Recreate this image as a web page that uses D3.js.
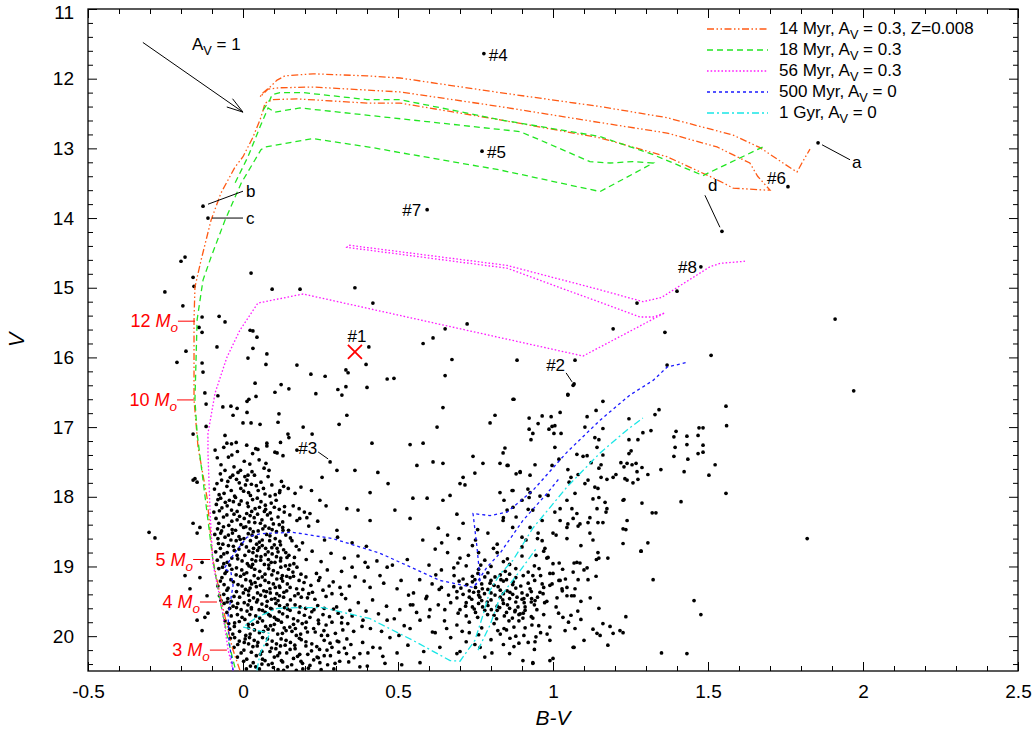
<!DOCTYPE html>
<html>
<head>
<meta charset="utf-8">
<script src="https://cdn.jsdelivr.net/npm/d3@7"></script>
<style>
  body { margin: 0; background: #fff; }
  svg text { font-family: "Liberation Sans", Arial, Helvetica, sans-serif; }
</style>
</head>
<body>
<svg id="cmd" width="1035" height="735"></svg>
<script>

// ---- data: [B-V, V] ----

const xTicks = [-0.5, 0, 0.5, 1, 1.5, 2, 2.5];
const yTicks = [11, 12, 13, 14, 15, 16, 17, 18, 19, 20];

// isochrones (null = break between pieces)
const iso14 = [
  [-0.010,20.49],[-0.035,20.16],[-0.068,19.53],[-0.097,18.91],[-0.116,18.01],[-0.145,17.29],
  [-0.158,16.61],[-0.158,15.46],[-0.155,14.99],[-0.135,14.60],[-0.103,14.03],[-0.071,13.64],
  [-0.026,13.27],[0.000,13.12],[0.032,12.84],[0.055,12.59],[0.065,12.45],[0.071,12.35],
  [0.097,12.30],[0.174,12.29],[0.400,12.35],[0.506,12.35],[0.829,12.59],[1.152,12.85],
  [1.368,13.12],[1.529,13.45],[1.581,13.57],[1.690,13.60],[1.700,13.60],
  [1.660,13.40],[1.635,13.21],[1.529,12.98],[1.368,12.78],[1.152,12.63],[0.829,12.40],
  [0.506,12.19],[0.226,12.12],[0.119,12.13],[0.081,12.15],[0.055,12.26],[0.065,12.20],
  [0.087,12.12],[0.110,12.02],[0.135,11.96],[0.226,11.93],[0.400,11.96],[0.506,11.99],
  [0.829,12.20],[1.152,12.40],[1.368,12.56],[1.581,12.81],[1.668,12.99],[1.742,13.21],
  [1.787,13.34],[1.803,13.21],[1.829,13.01]
];
const iso18 = [
  [-0.026,20.45],[-0.048,20.06],[-0.074,19.49],[-0.097,18.91],[-0.129,17.76],[-0.148,17.09],
  [-0.155,16.61],[-0.148,15.46],[-0.129,14.89],[-0.103,14.56],[-0.058,14.03],[-0.006,13.50],
  [0.058,13.02],[0.071,12.98],[0.226,12.86],[0.419,12.99],[0.506,13.06],[0.829,13.31],
  [1.152,13.62],[1.323,13.21],[1.258,13.19],[1.184,13.21],[1.119,13.19],[0.958,12.88],
  [0.894,12.76],[0.184,12.42],[0.103,12.48],[0.081,12.42],[0.055,12.69],[0.016,13.12],
  [-0.026,13.50],
  null,
  [0.065,12.45],[0.087,12.30],[0.094,12.23],[0.119,12.20],[0.194,12.20],[0.400,12.30],
  [0.506,12.30],[0.829,12.59],[1.152,12.83],[1.323,13.09],[1.484,13.39],[1.677,12.98]
];
const iso56 = [
  [-0.032,20.49],[-0.048,20.20],[-0.068,19.59],[-0.097,18.96],[-0.106,18.24],[-0.113,17.37],
  [-0.113,17.09],[-0.090,16.51],[-0.052,16.00],[-0.010,15.61],[0.048,15.22],[0.194,15.09],
  [1.097,15.98],[1.361,15.36],[1.323,15.42],[1.281,15.42],[0.852,14.72],[0.335,14.42],
  [0.342,14.39],[0.852,14.68],[1.152,15.03],[1.290,15.20],[1.350,15.14],[1.410,14.97],
  [1.506,14.70],[1.539,14.65],[1.619,14.62]
];
const iso500 = [
  [-0.032,20.49],[-0.045,20.06],[-0.048,19.70],[-0.032,19.27],[-0.039,19.08],[-0.061,19.03],
  [-0.026,18.80],[0.013,18.58],[0.055,18.53],[0.161,18.51],[0.290,18.60],[0.442,18.81],
  [0.635,19.20],[0.742,19.30],[0.765,19.20],[0.755,18.73],[0.742,18.24],[0.797,18.27],
  [0.852,18.22],[0.935,17.91],[1.045,17.36],[1.152,16.90],[1.248,16.54],[1.323,16.33],
  [1.368,16.14],[1.432,16.07],
  null,
  [0.748,19.27],[0.787,19.01],[0.829,18.81],[0.903,18.34],[0.981,17.95],[1.023,17.72]
];
const iso1g = [
  [0.045,20.49],[0.055,20.25],[0.087,19.96],[0.039,19.91],[0.000,19.87],[0.045,19.73],
  [0.110,19.60],[0.184,19.59],[0.258,19.59],[0.410,19.75],[0.548,20.06],[0.668,20.35],
  [0.700,20.36],[0.748,20.06],[0.774,19.70],[0.797,19.34],[0.829,19.11],[0.871,18.91],
  [0.935,18.45],[1.045,17.86],[1.152,17.37],[1.239,17.04],[1.290,16.87],
  null,
  [0.758,20.20],[0.797,19.84],[0.829,19.44],[0.894,19.06],[0.948,18.73]
];

const isoNames = [
  ["14 Myr, A", "V", " = 0.3, Z=0.008"],
  ["18 Myr, A", "V", " = 0.3"],
  ["56 Myr, A", "V", " = 0.3"],
  ["500 Myr, A", "V", " = 0"],
  ["1 Gyr, A", "V", " = 0"]
];

// labelled stars
const namedStars = [
  ["#4", 0.777, 11.64], ["#5", 0.771, 13.04], ["#7", 0.594, 13.88], ["d", 1.545, 14.19],
  ["#6", 1.758, 13.55], ["a", 1.855, 12.92], ["b", -0.129, 13.83], ["c", -0.113, 14.00],
  ["#8", 1.477, 14.70], ["#2", 1.068, 16.38], ["#3", 0.281, 17.50]
];
const star1 = [0.361, 15.92];

// mass marks on the main sequence
const massNames = ["12", "10", "5", "4", "3"];
const massBV = [-0.155, -0.158, -0.106, -0.084, -0.052];
const massV = [15.48, 16.61, 18.90, 19.51, 20.20];

// reddening vector A_V = 1
const avStart = [-0.323, 11.48];
const avEnd = [0.0, 12.48];

// field and cluster stars
const upperStars = [
  [1.40,15.05],[1.271,15.22],[1.194,15.59],[1.361,15.64],[1.51,15.97],[1.071,16.04],[0.884,16.04],
  [0.723,15.52],[0.652,15.59],[0.613,15.72],[0.581,15.80],[0.674,16.03],[0.652,16.26],[0.874,16.60],
  [1.048,16.53],[1.368,16.11],[1.558,16.70],[1.56,16.98],[0.645,16.72],[0.813,16.83],[0.797,16.94],
  [0.626,17.00],[1.91,15.45],[1.97,16.48],[1.82,18.60],
  [0.026,14.79],[0.094,15.02],[0.184,15.02],[0.361,15.00],[0.419,15.22],[-0.200,14.62],[-0.187,14.56],
  [-0.161,14.85],[-0.158,14.98],[-0.252,15.06],[-0.194,15.26],[-0.132,15.42],[-0.077,15.41],
  [-0.058,15.49],[-0.142,15.57],[-0.132,15.64],[0.023,15.61],[0.032,15.62],[0.045,15.71],
  [-0.084,15.85],[-0.184,15.91],[-0.213,16.07],[-0.132,16.08],[-0.129,16.21],[0.032,15.87],
  [0.016,16.01],[0.077,15.95],[0.074,16.10],[0.174,16.11],[0.219,16.24],[0.265,16.27],[0.332,16.18],
  [0.339,16.22],[0.397,16.10],[0.406,15.85],[0.039,16.37],[0.123,16.39],[0.148,16.45],[0.103,16.50],
  [0.235,16.52],[0.306,16.46],[0.332,16.42],[0.319,16.54],[0.400,16.43],[0.465,16.31],[0.487,16.30],
  [0.042,16.56],[0.019,16.60],[0.013,16.63],[0.013,16.79],[0.116,16.81],[0.335,16.83],[0.000,16.94],
  [0.026,16.94],[0.055,16.96],[0.113,16.93],[0.194,17.00],[0.310,16.96],[-0.123,16.51],[-0.119,16.67],
  [-0.081,16.55],[-0.065,16.71],[-0.039,16.70],[-0.019,16.73],[-0.032,16.83],[-0.161,17.10],
  [-0.119,16.99],[-0.058,17.12],[-0.052,17.23],[-0.037,17.24],[-0.022,17.22],[-0.090,17.33],
  [0.077,17.23],[0.103,17.36],[0.121,17.22],[0.129,17.41],[0.174,17.33],[0.148,17.15]
];

const fieldStars = [
  [0.145,17.10],[0.223,17.10],[0.077,17.27],[0.110,17.37],[0.048,17.32],[0.074,17.52],[0.084,17.62],
  [0.016,17.69],[0.303,17.62],[0.255,17.72],[0.361,17.62],[0.416,17.23],[0.435,17.65],[0.410,17.94],
  [0.468,17.81],[0.539,17.25],[0.581,17.23],[0.561,17.55],[0.613,17.50],[0.645,17.52],[0.742,17.42],
  [0.716,17.83],[0.748,17.66],[0.710,17.72],[0.774,17.52],[0.829,17.52],[0.855,17.55],[0.839,17.37],
  [0.894,17.65],[0.871,17.91],[0.926,17.69],[0.926,17.94],[0.548,18.02],[0.594,18.02],[0.645,18.05],
  [0.668,17.98],[0.700,17.81],[0.490,18.19],[0.539,18.31],[0.410,18.34],[0.335,18.17],[0.371,18.19],
  [0.248,18.05],[0.181,18.17],[0.206,18.30],[0.303,18.48],
  [0.352,19.01],[0.394,18.94],[0.403,19.01],[0.465,19.01],[0.442,19.13],[0.410,19.30],[0.313,19.30],
  [0.287,19.39],[0.319,19.73],[0.387,19.77],[0.465,19.77],[0.506,19.62],[0.548,19.55],[0.571,19.77],
  [0.539,19.89],[0.474,20.02],[0.419,20.16],[0.377,20.25],[0.335,20.04],[0.271,20.20],[0.239,20.30],
  [0.297,20.39],[0.458,20.39],[0.403,20.24],[0.571,20.38],[0.635,20.16],[0.690,20.25],[0.765,20.16],
  [0.803,20.24],[0.903,20.35],[0.935,20.38],[1.000,20.32],[1.065,20.16],[1.161,19.82],[1.142,19.96],
  [1.194,19.96],[1.216,19.92],
  [-0.155,17.74],[-0.161,18.38],[-0.132,18.94],[-0.123,19.73],[-0.303,18.51],[-0.284,18.59],
  [-0.161,17.76],[-0.148,17.79],[-0.139,18.44],[-0.148,18.52],[-0.187,19.13],[-0.139,19.16],
  [-0.171,19.32],[-0.116,19.42],[-0.148,19.77],[-0.132,19.92],[-0.113,19.67],
  [0.305,18.58],[0.352,18.66],[0.398,18.71],[0.327,18.88],[0.371,18.85],[0.432,18.92],[0.482,18.98],
  [0.318,19.07],[0.362,19.15],[0.391,19.21],[0.454,19.24],[0.497,19.32],[0.534,19.41],[0.331,19.46],
  [0.372,19.52],[0.418,19.48],[0.463,19.57],[0.302,19.58],[0.345,19.63],[0.397,19.64],[0.437,19.68],
  [0.488,19.75],[0.318,19.81],[0.357,19.93],[0.411,19.89],[0.447,19.93],[0.503,19.99],[0.309,20.08],
  [0.348,20.12],[0.386,20.09],[0.442,20.17],[0.497,20.24],[0.532,20.13],[0.341,20.37],[0.377,20.44],
  [0.451,20.29],[0.512,20.41],[0.583,20.22],[0.611,19.94],[0.593,19.43]
];

const giantStars = [
  [1.413,18.07],[1.332,18.23],[1.287,18.09],[1.306,18.66],[1.284,18.78],[1.226,18.67],[1.235,18.47],
  [1.229,18.04],[1.523,17.54],[1.503,17.69],[1.558,17.95],[1.39,17.42],[1.394,17.29],[1.39,17.14],
  [1.397,17.06],[1.423,17.64],[1.435,17.46],[1.432,17.25],[1.432,17.13],[1.468,17.12],[1.471,17.01],
  [1.484,17.01],[1.468,17.38],[1.484,17.26],[1.484,17.36],[1.348,17.61],[1.316,17.05],[1.29,17.08],
  [1.274,17.18],[1.245,17.18],[1.252,17.34],[1.245,17.38],[1.245,16.88],[1.329,16.82],[1.342,16.75],
  [1.306,17.68],[1.287,17.58],[1.271,17.64],[1.268,17.52],[1.255,17.54],[1.239,17.52],[1.229,17.57],
  [1.219,17.51],[1.232,17.74],[1.258,17.80],[1.274,17.75],[1.203,17.68],[1.194,17.72],[1.174,17.75],
  [1.155,17.72],[1.148,17.59],[1.155,17.54],[1.161,17.40],[1.161,17.02],[1.148,17.18],[1.135,17.15],
  [1.139,16.76],[1.161,16.63],[1.11,16.85],[1.103,17.00],[1.077,17.39],[1.097,17.42],[1.048,17.61],
  [1.048,16.54],[1.065,16.40],[1.023,16.79],[1.003,17.09],[0.997,16.99],[0.987,17.03],[0.994,16.85],
  [1.006,16.98],[1.026,17.09],[1.006,17.29],[0.965,16.84],[0.952,16.95],[0.935,17.09],[0.929,17.18],
  [0.923,17.03],[0.923,16.87],[0.871,16.60],[1.019,17.46],[0.997,17.55],[0.942,17.54],[0.881,17.67],
  [0.894,17.64],[0.852,17.55],[0.845,17.30],[1.455,19.49],[1.477,19.69],[1.323,19.19],[1.35,20.24],
  [1.432,20.25],[1.129,18.62],[1.148,18.88],[1.177,18.88],[1.145,18.80],[1.11,19.02],[1.113,19.19],
  [1.139,19.14],[1.148,19.60],[1.09,19.50],[1.09,19.76],[1.129,19.90],[1.152,19.99],[1.184,19.86],
  [1.177,20.13],[1.226,19.95],[1.235,19.72],[1.10,20.06],[1.068,20.16],[1.039,19.92],[1.071,19.89],
  [1.087,18.95],[1.068,18.95],[1.081,19.19],[1.071,19.32],[1.068,19.42],[1.058,19.70],[1.019,19.20],
  [1.029,19.32],[1.045,19.42],[1.013,19.45],[1.032,19.73],[0.990,19.87],[0.990,20.06],[0.981,19.97],
  [0.935,20.39],[0.945,20.01],[0.942,20.08],[0.906,19.99],[0.890,20.10],[0.861,20.03],[0.842,19.89],
  [0.874,19.87],[0.903,19.74],[0.935,19.74],[0.932,19.84],[0.894,19.68],[0.877,19.65],[0.858,19.78],
  [0.829,17.94],[0.868,17.91],[0.842,18.05],[0.852,18.19],[0.839,18.34],[0.871,18.15],[0.881,18.29],
  [0.900,18.05],[0.919,17.89],[0.923,18.01],[0.958,17.99],[0.984,17.98],[0.935,18.19],[0.965,18.34],
  [0.926,18.44],[0.900,18.58],[0.952,18.52],[0.965,18.63],[1.000,18.52],[0.974,18.74],[0.945,18.84],
  [0.984,18.87],[1.000,18.96],[0.955,19.03],[0.935,19.13],[0.990,19.10],[0.965,19.25],[0.926,19.32],
  [0.997,19.25],[0.968,19.39],[0.942,19.49],[0.906,19.46],[1.023,19.20],[1.045,19.30],[1.065,19.08],
  [1.077,18.94],[1.023,18.34],[1.048,18.39],[1.081,18.42],[1.119,18.52],[1.045,18.60],[1.006,18.22],
  [1.023,18.17],[1.061,18.17],[1.077,18.24],[1.045,18.05],[1.113,18.37],[1.145,18.37],[1.161,18.37],
  [1.171,18.22],[1.142,18.17],[1.071,17.95],[1.103,17.81],[1.113,17.76],[1.135,17.86],[1.148,18.01],
  [1.123,17.51],[1.11,17.41],[1.142,17.29],[1.081,17.68],[1.052,17.79],[1.058,17.72],
  [1.284,18.78],[1.32,18.23],[1.226,18.46],[1.239,18.34],[1.087,18.39],[1.119,18.30],[1.065,18.31],
  [1.045,18.44],[1.174,18.17],[1.129,18.03],[1.168,18.08],[1.226,18.05],[1.145,17.88],[1.239,17.76]
];

const clumpStars = [
  [0.71,19.18],[0.74,19.22],[0.78,19.15],[0.81,19.27],[0.85,19.19],[0.88,19.31],[0.73,19.35],
  [0.76,19.41],[0.80,19.38],[0.83,19.44],[0.87,19.40],[0.90,19.47],[0.69,19.45],[0.72,19.52],
  [0.77,19.49],[0.79,19.56],[0.84,19.53],[0.86,19.60],[0.91,19.58],[0.70,19.62],[0.75,19.66],
  [0.82,19.63],[0.89,19.69],[0.68,19.29],[0.93,19.36],[0.79,19.09],[0.86,19.11],[0.92,19.24],
  [0.75,19.30],[0.83,19.34],[0.71,19.40],[0.88,19.51],[0.81,19.70],[0.74,19.58],[0.95,19.44],
  [0.77,19.25],[0.84,19.21],[0.80,19.48],[0.73,19.44],[0.87,19.26],[0.90,19.38],[0.76,19.53],
  [0.82,19.57],[0.85,19.66],[0.78,19.63],[0.72,19.71],[0.94,19.55],[0.67,19.52],[0.97,19.30],
  [0.79,19.33],[0.86,19.46],[0.83,19.12],[0.74,19.14],[0.69,19.36],[0.91,19.63],[0.80,19.20],
  [0.88,19.16],[0.76,19.36],[0.93,19.51],[0.84,19.39],
  [0.58,18.62],[0.62,18.75],[0.66,18.55],[0.70,18.88],[0.74,18.70],[0.78,18.91],[0.82,18.80],
  [0.86,18.97],[0.90,18.85],[0.94,18.99],[0.98,18.88],[1.02,18.95],[0.60,18.98],[0.64,19.05],
  [0.68,19.02],[0.72,18.99],[0.76,19.04],[0.80,19.00],[0.84,18.93],[0.88,19.03],[0.92,19.08],
  [0.96,19.13],[1.00,19.10],[1.04,19.18],[0.57,19.19],[0.61,19.25],[0.64,19.30],[0.99,19.27],
  [1.03,19.35],[1.06,19.42],[0.55,19.38],[0.59,19.46],[0.63,19.55],[0.98,19.50],[1.01,19.58],
  [1.08,19.64],[0.56,19.66],[0.60,19.72],[0.65,19.78],[0.69,19.84],[0.73,19.80],[0.77,19.88],
  [0.81,19.82],[0.85,19.91],[0.89,19.78],[0.93,19.72],[0.97,19.69],[1.05,19.80],[0.62,19.95],
  [0.67,20.02],[0.72,20.08],[0.76,19.98],[0.80,20.05],[0.84,20.12],[0.88,20.00],[0.92,20.09],
  [0.96,19.95],[0.70,20.22],[0.78,20.30],[0.86,20.25],[0.94,20.19],[0.99,20.35],[0.63,18.45],
  [0.71,18.38],[0.79,18.52],[0.87,18.44],[0.95,18.60],[1.01,18.55],[0.69,18.25],[0.84,18.30],
  [0.92,18.18],[0.75,18.62],[0.66,18.80],[0.53,18.90],[0.51,19.20],[0.54,19.55],[0.52,19.85],
  [1.10,19.05],[1.12,19.45],[1.09,18.70],[1.14,18.90],[0.82,18.68],[0.90,18.72],[0.97,18.78],
  [0.76,18.80],[0.73,19.95],[0.83,19.97],[0.91,19.88],
  [0.722,19.26],[0.748,19.19],[0.772,19.32],[0.797,19.24],[0.823,19.29],[0.852,19.35],[0.872,19.22],
  [0.896,19.28],[0.917,19.41],[0.703,19.31],[0.738,19.47],[0.764,19.44],[0.788,19.51],[0.813,19.41],
  [0.838,19.48],[0.861,19.37],[0.884,19.44],[0.907,19.52],[0.931,19.46],[0.718,19.57],[0.746,19.61],
  [0.773,19.58],[0.801,19.62],[0.828,19.59],[0.853,19.55],[0.878,19.63],[0.904,19.67],[0.694,19.67],
  [0.757,19.73],[0.789,19.69],[0.818,19.75],[0.843,19.71],[0.869,19.74],[0.697,19.21],[0.758,19.10],
  [0.813,19.15],[0.846,19.07],[0.904,19.13],[0.941,19.20],[0.958,19.37],[0.663,19.41],[0.651,19.62],
  [0.948,19.62],[0.973,19.52],[0.633,19.33],[0.681,19.13],[0.779,19.39],[0.832,19.19],[0.887,19.58],
  [0.744,19.37],[0.767,18.98],[0.853,18.89],[0.727,18.84],[0.808,18.74],[0.693,18.95],[0.622,19.12],
  [0.603,19.62],[0.657,19.89],[0.707,19.93],[0.748,20.12],[0.822,19.92],[0.874,20.15],[0.954,19.85],
  [1.018,19.67],[1.031,19.04],[0.641,18.66],[0.697,18.60],[0.757,18.47],[0.913,18.62]
];

const msStars = [
  [-0.062,17.29],[-0.018,17.35],[0.012,17.26],[-0.047,17.43],[0.004,17.49],[0.031,17.38],[-0.071,17.54],
  [-0.029,17.57],[0.022,17.53],[0.052,17.47],[-0.008,17.62],[0.068,17.59],[-0.083,17.44],[0.041,17.31],
  [-0.036,17.40],
  [-0.073,17.67],[-0.041,17.72],[-0.016,17.65],[0.013,17.76],[0.037,17.69],[0.058,17.79],[-0.084,17.81],
  [-0.052,17.85],[-0.007,17.88],[0.027,17.82],[0.049,17.91],[0.093,17.83],[0.118,17.94],[0.146,17.88],
  [-0.061,17.95],[-0.027,17.99],[0.002,17.92],[0.024,17.98],[0.071,17.96],[0.104,17.97],[0.168,17.95],
  [-0.092,17.89],[0.124,17.78],[0.187,17.86],[-0.021,17.75],[0.081,17.71],[0.221,17.91],
  [-0.081,18.04],[-0.057,18.08],[-0.024,18.01],[0.014,18.09],[0.046,18.02],[0.072,18.12],[0.107,18.05],
  [0.134,18.14],[-0.068,18.16],[-0.037,18.19],[-0.012,18.11],[0.028,18.21],[0.053,18.15],[0.088,18.23],
  [0.117,18.18],[0.151,18.26],[-0.094,18.22],[-0.063,18.29],[-0.029,18.25],[0.004,18.31],[0.023,18.27],
  [0.061,18.33],[0.079,18.26],[0.128,18.36],[0.183,18.31],[-0.078,18.38],[-0.046,18.41],[-0.019,18.33],
  [0.009,18.43],[0.038,18.37],[0.084,18.45],[0.098,18.39],[0.147,18.48],[0.212,18.42],[-0.069,18.49],
  [-0.035,18.47],[0.002,18.44],[0.033,18.50],[0.064,18.46],[0.162,18.13],[0.198,18.22],[0.241,18.35],
  [-0.031,18.07],[0.094,18.47],[0.268,18.13],[0.113,18.29],
  [-0.091,18.54],[-0.058,18.58],[-0.034,18.52],[0.003,18.60],[0.029,18.55],[0.062,18.62],[0.087,18.56],
  [0.119,18.64],[0.153,18.59],[0.192,18.66],[-0.079,18.67],[-0.047,18.70],[-0.022,18.63],[0.011,18.72],
  [0.044,18.68],[0.073,18.74],[0.101,18.69],[0.131,18.76],[0.172,18.71],[0.223,18.78],[-0.088,18.79],
  [-0.062,18.82],[-0.028,18.77],[0.006,18.84],[0.032,18.80],[0.058,18.86],[0.094,18.82],[0.122,18.88],
  [0.148,18.84],[0.204,18.90],[-0.083,18.91],[-0.051,18.94],[-0.017,18.89],[0.014,18.96],[0.041,18.92],
  [0.069,18.97],[0.103,18.94],[0.137,18.99],[0.164,18.96],[0.252,18.93],[0.284,18.81],[0.263,18.62],
  [-0.043,18.98],[0.019,18.99],[0.082,18.90],[0.113,18.79],[0.052,18.73],[-0.009,18.61],
  [-0.078,19.03],[-0.053,19.07],[-0.021,19.02],[0.012,19.09],[0.038,19.04],[0.071,19.11],[0.098,19.06],
  [0.127,19.13],[0.161,19.08],[0.203,19.15],[0.237,19.10],[-0.068,19.16],[-0.039,19.19],[-0.008,19.14],
  [0.024,19.21],[0.049,19.17],[0.083,19.23],[0.109,19.18],[0.143,19.25],[0.181,19.20],[0.219,19.27],
  [0.291,19.22],[-0.081,19.28],[-0.048,19.31],[-0.016,19.26],[0.008,19.33],[0.043,19.29],[0.067,19.35],
  [0.104,19.30],[0.132,19.37],[0.173,19.32],[0.212,19.39],[0.258,19.34],[-0.062,19.40],[-0.029,19.43],
  [0.001,19.38],[0.034,19.45],[0.057,19.41],[0.092,19.47],[0.118,19.42],[0.153,19.48],[0.188,19.44],
  [0.232,19.47],[0.318,19.40],[-0.071,19.49],[-0.038,19.50],[0.021,19.49],[0.078,19.50],[0.141,19.14],
  [0.028,19.25],[0.088,19.38],[0.272,19.05],[0.343,19.28],[0.003,19.11],[0.122,19.01],[0.178,19.39],
  [-0.061,19.53],[-0.032,19.57],[0.004,19.52],[0.027,19.59],[0.061,19.54],[0.093,19.61],[0.118,19.56],
  [0.152,19.63],[0.184,19.58],[0.222,19.65],[0.262,19.60],[0.307,19.67],[-0.052,19.66],[-0.018,19.69],
  [0.013,19.64],[0.041,19.71],[0.072,19.66],[0.101,19.73],[0.128,19.68],[0.163,19.75],[0.198,19.70],
  [0.243,19.77],[0.279,19.72],[0.352,19.71],[-0.058,19.78],[-0.027,19.81],[0.006,19.76],[0.031,19.83],
  [0.063,19.78],[0.089,19.85],[0.124,19.80],[0.151,19.87],[0.191,19.82],[0.228,19.89],[0.268,19.84],
  [0.322,19.91],[-0.043,19.90],[-0.011,19.93],[0.018,19.88],[0.053,19.95],[0.081,19.90],[0.112,19.97],
  [0.139,19.92],[0.172,19.99],[0.208,19.94],[0.253,19.99],[0.298,19.96],[0.384,19.86],[0.052,19.62],
  [0.108,19.76],[0.169,19.89],[0.023,19.97],[0.083,19.69],[0.143,19.55],[0.204,19.80],[0.261,19.92],
  [-0.021,19.59],
  [-0.041,20.03],[-0.012,20.07],[0.021,20.02],[0.048,20.09],[0.079,20.04],[0.108,20.11],[0.139,20.06],
  [0.167,20.13],[0.203,20.08],[0.238,20.15],[0.281,20.10],[0.327,20.17],[-0.029,20.16],[0.003,20.20],
  [0.032,20.15],[0.061,20.22],[0.092,20.17],[0.118,20.24],[0.152,20.19],[0.183,20.26],[0.221,20.21],
  [0.262,20.28],[0.309,20.23],[-0.018,20.30],[0.012,20.33],[0.043,20.28],[0.071,20.35],[0.101,20.30],
  [0.128,20.37],[0.163,20.32],[0.192,20.39],[0.228,20.34],[0.273,20.41],[0.024,20.43],[0.053,20.47],
  [0.082,20.41],[0.113,20.48],[0.143,20.44],[0.172,20.49],[0.211,20.46],[0.358,20.31],[0.401,20.43],
  [0.293,20.47],[0.004,20.09],[0.061,20.40],[0.121,20.14],[0.182,20.03],
  [0.119,17.91],[0.216,18.24],[0.174,18.34],[0.129,18.48],[0.110,18.74],[0.142,18.87],[0.174,19.01],
  [0.152,19.16],[0.119,19.30]
];

// densest part of the upper main sequence
const msCore = [
  [-0.058,17.62],[-0.033,17.69],[0.006,17.71],[0.029,17.64],[-0.069,17.76],[-0.012,17.80],[0.043,17.84],
  [0.066,17.88],[-0.038,17.91],[-0.077,17.97],[0.018,17.94],[0.087,17.99],[0.131,17.85],[-0.049,17.78],
  [0.008,17.83],
  [-0.072,18.02],[-0.044,18.05],[-0.006,18.06],[0.031,18.04],[0.058,18.07],[0.091,18.09],[-0.086,18.11],
  [-0.051,18.13],[0.017,18.14],[0.039,18.17],[0.073,18.18],[0.101,18.15],[-0.076,18.20],[-0.019,18.21],
  [0.012,18.24],[0.047,18.25],[0.069,18.21],[0.133,18.22],[-0.052,18.26],[-0.011,18.28],[0.036,18.30],
  [0.092,18.32],[-0.087,18.31],[-0.036,18.35],[0.019,18.36],[0.056,18.38],[0.117,18.40],[-0.063,18.43],
  [-0.007,18.40],[0.023,18.46],[0.071,18.42],[0.128,18.44],[-0.082,18.46],[-0.024,18.48],[0.049,18.49],
  [0.108,18.50],
  [-0.072,18.52],[-0.047,18.55],[-0.013,18.57],[0.017,18.53],[0.043,18.58],[0.076,18.54],[0.104,18.60],
  [0.138,18.55],[-0.081,18.60],[-0.039,18.62],[0.024,18.63],[0.053,18.65],[0.086,18.63],[0.158,18.63],
  [-0.065,18.68],[-0.031,18.71],[-0.004,18.68],[0.034,18.74],[0.062,18.70],[0.093,18.73],[0.121,18.69],
  [-0.073,18.74],[-0.013,18.75],[0.019,18.78],[0.047,18.77],[0.081,18.79],[0.138,18.80],[0.181,18.76],
  [-0.051,18.80],[-0.019,18.84],[0.044,18.85],[0.072,18.83],[0.108,18.86],[0.166,18.87],[-0.071,18.86],
  [-0.036,18.88],[0.029,18.90],[0.057,18.91],[0.091,18.94],[0.121,18.92],[-0.062,18.96],[-0.003,18.92],
  [0.031,18.97],[0.083,18.98],[0.151,18.98],
  [-0.066,19.01],[-0.036,19.04],[-0.004,19.05],[0.027,19.01],[0.054,19.07],[0.083,19.03],[0.112,19.09],
  [0.147,19.04],[0.187,19.11],[-0.058,19.10],[-0.022,19.12],[0.036,19.13],[0.062,19.15],[0.093,19.12],
  [0.124,19.17],[0.163,19.14],[-0.073,19.21],[-0.031,19.22],[0.009,19.19],[0.039,19.23],[0.071,19.20],
  [0.098,19.25],[0.128,19.21],[0.197,19.23],[0.244,19.20],[-0.061,19.26],[-0.003,19.28],[0.023,19.31],
  [0.056,19.27],[0.087,19.32],[0.117,19.28],[0.152,19.30],[0.193,19.33],[-0.052,19.34],[-0.021,19.36],
  [0.018,19.35],[0.047,19.38],[0.076,19.36],[0.109,19.39],[0.141,19.35],[0.224,19.37],[-0.076,19.42],
  [-0.011,19.44],[0.018,19.41],[0.072,19.43],[0.103,19.46],[0.131,19.44],[0.167,19.42],[0.208,19.45],
  [-0.049,19.46],[0.047,19.48],[0.113,19.49],[0.268,19.43],[0.278,19.28],[0.248,19.16],
  [-0.051,19.51],[-0.017,19.53],[0.016,19.55],[0.044,19.51],[0.076,19.57],[0.106,19.53],[0.134,19.59],
  [0.168,19.55],[0.202,19.60],[0.241,19.56],[-0.043,19.60],[-0.006,19.62],[0.027,19.61],[0.063,19.63],
  [0.089,19.60],[0.117,19.65],[0.144,19.61],[0.181,19.66],[0.229,19.62],[0.292,19.61],[-0.038,19.71],
  [-0.003,19.73],[0.022,19.69],[0.054,19.74],[0.088,19.71],[0.114,19.77],[0.143,19.72],[0.177,19.78],
  [0.216,19.73],[0.258,19.69],[-0.046,19.82],[-0.012,19.79],[0.017,19.83],[0.047,19.80],[0.073,19.86],
  [0.101,19.83],[0.133,19.88],[0.163,19.83],[0.202,19.88],[0.244,19.82],[0.287,19.80],[-0.028,19.86],
  [0.037,19.91],[0.066,19.93],[0.097,19.91],[0.127,19.96],[0.158,19.93],[0.186,19.97],[0.233,19.94],
  [0.273,19.99],[0.338,19.82],[-0.033,19.97],[0.009,19.99],
  [-0.027,20.02],[0.007,20.04],[0.036,20.06],[0.063,20.02],[0.094,20.07],[0.123,20.04],[0.153,20.09],
  [0.188,20.05],[0.222,20.11],[0.262,20.06],[0.304,20.07],[-0.017,20.12],[0.018,20.11],[0.046,20.14],
  [0.077,20.12],[0.106,20.18],[0.136,20.13],[0.168,20.18],[0.203,20.14],[0.247,20.19],[0.287,20.16],
  [-0.006,20.24],[0.027,20.23],[0.056,20.26],[0.087,20.22],[0.112,20.28],[0.141,20.24],[0.176,20.29],
  [0.209,20.26],[0.243,20.31],[0.282,20.28],[0.334,20.25],[0.002,20.36],[0.033,20.38],[0.063,20.33],
  [0.094,20.39],[0.124,20.35],[0.157,20.41],[0.187,20.36],[0.216,20.42],[0.248,20.38],[0.312,20.36],
  [0.011,20.47],[0.041,20.44],[0.098,20.45],[0.131,20.49],[0.193,20.47],[0.252,20.48]
];

// ---- chart ----

const width = 1035, height = 735;
const margin = {top: 9, right: 17, bottom: 64, left: 88};

const svg = d3.select('#cmd');

const x = d3.scaleLinear().domain([-0.5, 2.5]).range([margin.left, width - margin.right]);
const y = d3.scaleLinear().domain([11, 20.5]).range([margin.top, height - margin.bottom]);

svg.append('clipPath').attr('id', 'plotclip')
  .append('rect')
  .attr('x', margin.left).attr('y', margin.top)
  .attr('width', width - margin.left - margin.right)
  .attr('height', height - margin.top - margin.bottom);

// minor tick positions
const xMinor = d3.range(-5, 26).map(i => i / 10).filter(v => Math.abs(v * 2 - Math.round(v * 2)) > 1e-6);
const yMinor = d3.range(55, 103).map(i => i / 5).filter(v => Math.abs(v - Math.round(v)) > 1e-6);

function axisStyle(g) {
  g.select('.domain').remove();
  g.attr('font-size', 19).attr('font-family', '"Liberation Sans", Arial, sans-serif');
  g.selectAll('line').attr('stroke', '#000');
}

const plotBottom = y(20.5), plotTop = y(11), plotLeft = x(-0.5), plotRight = x(2.5);

svg.append('g').attr('transform', `translate(0,${plotBottom})`)
  .call(d3.axisBottom(x).tickValues(xTicks).tickSize(-9).tickPadding(14).tickFormat(d => String(d)))
  .call(axisStyle);
svg.append('g').attr('transform', `translate(0,${plotBottom})`)
  .call(d3.axisBottom(x).tickValues(xMinor).tickSize(-5).tickFormat(''))
  .call(axisStyle);
svg.append('g').attr('transform', `translate(0,${plotTop})`)
  .call(d3.axisTop(x).tickValues(xTicks).tickSize(-9).tickFormat(''))
  .call(axisStyle);
svg.append('g').attr('transform', `translate(0,${plotTop})`)
  .call(d3.axisTop(x).tickValues(xMinor).tickSize(-5).tickFormat(''))
  .call(axisStyle);

svg.append('g').attr('transform', `translate(${plotLeft},0)`)
  .call(d3.axisLeft(y).tickValues(yTicks).tickSize(-9).tickPadding(14).tickFormat(d => String(d)))
  .call(axisStyle)
  .call(g => g.selectAll('.tick text').filter(d => d === 11).attr('dy', '0.48em'));
svg.append('g').attr('transform', `translate(${plotLeft},0)`)
  .call(d3.axisLeft(y).tickValues(yMinor).tickSize(-5).tickFormat(''))
  .call(axisStyle);
svg.append('g').attr('transform', `translate(${plotRight},0)`)
  .call(d3.axisRight(y).tickValues(yTicks).tickSize(-9).tickFormat(''))
  .call(axisStyle);
svg.append('g').attr('transform', `translate(${plotRight},0)`)
  .call(d3.axisRight(y).tickValues(yMinor).tickSize(-5).tickFormat(''))
  .call(axisStyle);

svg.append('rect')
  .attr('x', plotLeft).attr('y', plotTop)
  .attr('width', plotRight - plotLeft).attr('height', plotBottom - plotTop)
  .attr('fill', 'none').attr('stroke', '#000').attr('stroke-width', 1.3);

// axis titles
svg.append('text')
  .attr('x', (plotLeft + plotRight) / 2).attr('y', 725)
  .attr('text-anchor', 'middle')
  .attr('font-size', 21).attr('font-style', 'italic')
  .text('B-V');
svg.append('text')
  .attr('transform', 'translate(24,340) rotate(-90)')
  .attr('text-anchor', 'middle')
  .attr('font-size', 22).attr('font-style', 'italic')
  .text('V');

// text with a subscript
function richText(sel, px, py, parts, size) {
  const t = sel.append('text').attr('x', px).attr('y', py).attr('font-size', size);
  let shift = 0;
  parts.forEach(p => {
    const target = p.sub ? Math.round(size * 0.27) : 0;
    const ts = t.append('tspan').attr('dy', target - shift).text(p.t);
    shift = target;
    if (p.sub) ts.attr('font-size', size * 0.75);
    if (p.it) ts.attr('font-style', 'italic');
  });
  return t;
}

const plot = svg.append('g').attr('clip-path', 'url(#plotclip)');

// stars
const allStars = [].concat(upperStars, fieldStars, giantStars, clumpStars, msStars, msCore,
  namedStars.map(d => [d[1], d[2]]));

plot.append('g')
  .selectAll('circle')
  .data(allStars)
  .join('circle')
  .attr('cx', d => x(d[0]))
  .attr('cy', d => y(d[1]))
  .attr('r', 1.85)
  .attr('fill', '#000');

// isochrones
const isoStyles = [
  {color: '#ff5a14', dash: '7,2.5,1.5,2.5,1.5,2.5'},
  {color: '#22e622', dash: '6,4'},
  {color: '#ff1aff', dash: '1.6,2'},
  {color: '#1a1aff', dash: '3,3'},
  {color: '#19e6e6', dash: '7,3,2,3'}
];
const isoData = [iso14, iso18, iso56, iso500, iso1g];

const line = d3.line()
  .defined(d => d !== null)
  .x(d => x(d[0]))
  .y(d => y(d[1]));

plot.append('g')
  .selectAll('path')
  .data(isoData)
  .join('path')
  .attr('d', line)
  .attr('fill', 'none')
  .attr('stroke', (d, i) => isoStyles[i].color)
  .attr('stroke-dasharray', (d, i) => isoStyles[i].dash)
  .attr('stroke-width', 1.3);

// legend
const legend = svg.append('g');
isoNames.forEach((n, i) => {
  const ly = 29 + i * 21;
  legend.append('line')
    .attr('x1', 707).attr('x2', 768).attr('y1', ly).attr('y2', ly)
    .attr('stroke', isoStyles[i].color)
    .attr('stroke-dasharray', isoStyles[i].dash)
    .attr('stroke-width', 1.4);
  richText(legend, 779, ly + 5, [{t: n[0]}, {t: n[1], sub: true}, {t: n[2]}], 17);
});

// mass marks
massNames.forEach((m, i) => {
  const mx = x(massBV[i]), my = y(massV[i]);
  svg.append('line')
    .attr('x1', mx - 17).attr('x2', mx).attr('y1', my).attr('y2', my)
    .attr('stroke', '#ff0000').attr('stroke-width', 1);
  richText(svg, mx - 17, my + 6, [{t: m + ' '}, {t: 'M', it: true}, {t: 'o', sub: true, it: true}], 18)
    .attr('fill', '#ff0000').attr('text-anchor', 'end');
});

// reddening arrow
const ax0 = x(avStart[0]), ay0 = y(avStart[1]), ax1 = x(avEnd[0]), ay1 = y(avEnd[1]);
svg.append('line')
  .attr('x1', ax0).attr('y1', ay0).attr('x2', ax1).attr('y2', ay1)
  .attr('stroke', '#000').attr('stroke-width', 1);
const ang = Math.atan2(ay1 - ay0, ax1 - ax0);
[-0.3, 0.3].forEach(da => {
  svg.append('line')
    .attr('x1', ax1).attr('y1', ay1)
    .attr('x2', ax1 - 17 * Math.cos(ang + da)).attr('y2', ay1 - 17 * Math.sin(ang + da))
    .attr('stroke', '#000').attr('stroke-width', 1);
});
richText(svg, 192, 50, [{t: 'A'}, {t: 'V', sub: true}, {t: ' = 1'}], 17);

// star labels: [dx, dy, anchor, leader line from (lx1,ly1) to (lx2,ly2) relative to star]
const labelPlace = {
  '#4': [5, 7, 'start', null],
  '#5': [5, 7, 'start', null],
  '#7': [-6, 6, 'end', null],
  '#6': [-2, -3, 'end', null],
  '#8': [-4, 6, 'end', null],
  '#2': [-9, -13, 'end', [-8, -11, -2, -2]],
  '#3': [-13, -8, 'end', [-12, -10, -2, -3]],
  'a': [34, 25, 'start', [4, 2, 32, 17]],
  'b': [43, -9, 'start', [5, -2, 40, -15]],
  'c': [38, 6, 'start', [4, 0, 35, 0]],
  'd': [-14, -40, 'start', [-2, -4, -17, -36]]
};
namedStars.forEach(s => {
  const sx = x(s[1]), sy = y(s[2]);
  const p = labelPlace[s[0]];
  svg.append('text')
    .attr('x', sx + p[0]).attr('y', sy + p[1])
    .attr('text-anchor', p[2])
    .attr('font-size', 17)
    .text(s[0]);
  if (p[3]) {
    svg.append('line')
      .attr('x1', sx + p[3][0]).attr('y1', sy + p[3][1])
      .attr('x2', sx + p[3][2]).attr('y2', sy + p[3][3])
      .attr('stroke', '#000').attr('stroke-width', 1);
  }
});

// star #1 (red cross)
const cx1 = x(star1[0]), cy1 = y(star1[1]);
svg.append('path')
  .attr('d', `M${cx1 - 7},${cy1 - 7}L${cx1 + 7},${cy1 + 7}M${cx1 - 7},${cy1 + 7}L${cx1 + 7},${cy1 - 7}`)
  .attr('stroke', '#ff0000').attr('stroke-width', 1.8);
svg.append('text')
  .attr('x', cx1 + 2).attr('y', cy1 - 10)
  .attr('text-anchor', 'middle')
  .attr('font-size', 17)
  .text('#1');

</script>
</body>
</html>
